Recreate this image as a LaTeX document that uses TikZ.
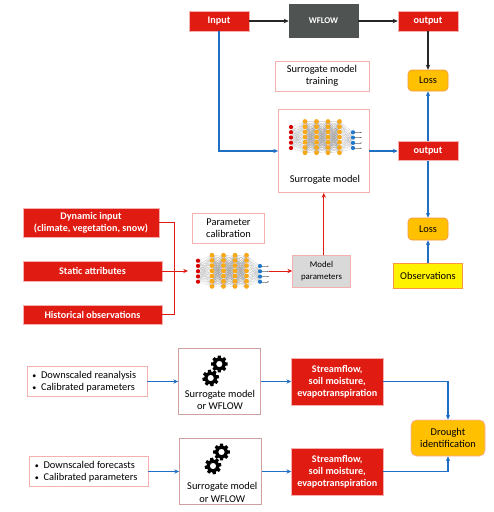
\documentclass[tikz,border=0pt]{standalone}
\usepackage{fontspec}
\setmainfont{Carlito}
\usetikzlibrary{arrows.meta}
\definecolor{boxred}{HTML}{E01B12}
\definecolor{boxpink}{HTML}{F6AFAF}
\definecolor{gearedge}{HTML}{CFA0A0}
\definecolor{lossorange}{HTML}{FFC000}
\definecolor{lossedge}{HTML}{F79646}
\definecolor{wflowgray}{HTML}{4F5452}
\definecolor{linkblue}{HTML}{1F6FC4}
\definecolor{netorange}{HTML}{F9A81A}
\definecolor{netblue}{HTML}{1F78C8}
\newcommand{\listdot}{\makebox[6.6pt][l]{\fontsize{6}{6}\selectfont\textbullet}}
\tikzset{
  plaintext/.style={font=\fontsize{7.8}{9.2}\selectfont,inner sep=0pt},
  redbox/.style={draw=boxpink,line width=0.4pt,fill=boxred,text=white,font=\bfseries\fontsize{7.6}{8.9}\selectfont,align=center,inner sep=0pt},
  notebox/.style={draw=boxpink,line width=0.6pt,fill=white,font=\fontsize{7.8}{9.2}\selectfont,align=center,inner sep=0pt},
  gearbox/.style={draw=gearedge,line width=0.6pt,fill=white,inner sep=0pt},
  lossbox/.style={draw=lossedge,line width=0.5pt,fill=lossorange,rounded corners=3pt,font=\fontsize{7.8}{9.2}\selectfont,align=center,inner sep=0pt},
  bluelink/.style={draw=linkblue,line width=0.8pt,-{Stealth[length=3.6pt,width=3.2pt]}},
  redlink/.style={draw=boxred,line width=0.75pt,-{Stealth[length=3.6pt,width=3.2pt]}},
  blacklink/.style={draw=black!85,line width=0.85pt,-{Stealth[length=3.8pt,width=3.4pt]}},
  neuralnet/.pic={
    \foreach \xa/\xb in {14/25.5,25.5/37,37/48.5}
      \foreach \ya in {-5.5,-0.3,4.9,10.1,15.3,20.5,25.7}
        \foreach \yb in {-5.6,-0.4,4.8,10,15.2,20.4,25.6}
          \draw[black!38,line width=0.13pt] (\xa,\ya)--(\xb,\yb);
    \foreach \ya in {0,5.2,10.5,15.7,21}
      \foreach \yb in {-5.5,-0.3,4.9,10.1,15.3,20.5,25.7}
        \draw[black!25,line width=0.12pt] (0,\ya)--(14,\yb);
    \foreach \ya in {-5.5,-0.3,4.9,10.1,15.3,20.5,25.7}
      \foreach \yb in {5.3,10.6,15.9,21}
        \draw[black!25,line width=0.12pt] (48.5,\ya)--(62,\yb);
    \foreach \yb in {5.3,10.6,15.9,21}{
      \draw[black!40,line width=0.2pt] (62,\yb)--(70,\yb);
      \fill[netblue] (62,\yb) circle (2.1);
      \fill[black] (70,\yb) circle (0.5);
    }
    \foreach \ya in {0,5.2,10.5,15.7,21}
      \fill[red!85!black] (0,\ya) circle (2.1);
    \foreach \xa in {14,25.5,37,48.5}
      \foreach \ya in {-5.5,-0.3,4.9,10.1,15.3,20.5,25.7}
        \fill[netorange] (\xa,\ya) circle (2.4);
  },
  cogwheel/.pic={
    \foreach \a in {0,45,...,315}
      \fill[black,rotate=\a+#1] (-1.9,5)--(1.9,5)--(1.5,8.3)--(-1.5,8.3)--cycle;
    \fill[black,even odd rule] (0,0) circle (6.4) (0,0) circle (3.2);
  }
}
\begin{document}
\begin{tikzpicture}[x=0.75pt,y=-0.75pt]
  \useasboundingbox (0,0) rectangle (494,512);

  \node[redbox,minimum width=45pt,minimum height=15pt] (input) at (219,21) {Input};
  \node[redbox,fill=wflowgray,draw=wflowgray,font=\bfseries\fontsize{6.6}{8}\selectfont,minimum width=51.75pt,minimum height=24.75pt] (wflow) at (323.5,21) {WFLOW};
  \node[redbox,minimum width=45pt,minimum height=15pt] (outputa) at (428,21) {output};
  \node[lossbox,minimum width=30pt,minimum height=15.75pt] (lossa) at (428,80.5) {Loss};
  \node[notebox,minimum width=70.5pt,minimum height=22.5pt] (training) at (322,76) {Surrogate model\\training};
  \node[notebox,minimum width=67.9pt,minimum height=62.25pt] (surrogate) at (323.75,151) {};
  \node[plaintext] (surrogatetext) at (325,180) {Surrogate model};
  \node[redbox,minimum width=45pt,minimum height=14.25pt] (outputb) at (428,151) {output};
  \node[lossbox,minimum width=30pt,minimum height=16.5pt] (lossb) at (428,229) {Loss};
  \node[lossbox,rounded corners=0pt,fill=yellow,minimum width=52pt,minimum height=18.75pt] (observations) at (428,275.5) {Observations};
  \pic (surrogatenet) at (291,127) {neuralnet};

  \node[redbox,minimum width=102pt,minimum height=21.75pt] (dynamic) at (91,222.5) {Dynamic input\\(climate, vegetation, snow)};
  \node[redbox,minimum width=104.25pt,minimum height=15pt] (static) at (92.5,271) {Static attributes};
  \node[redbox,minimum width=104.25pt,minimum height=14.25pt] (historical) at (92.5,314.5) {Historical observations};
  \node[notebox,minimum width=54pt,minimum height=22.5pt] (calibration) at (228.5,228) {Parameter\\calibration};
  \pic (calibrationnet) at (198,260.7) {neuralnet};
  \node[redbox,fill=black!15,text=black,font=\fontsize{6.6}{8.8}\selectfont,minimum width=43.5pt,minimum height=24pt] (parameters) at (321.5,271) {Model\\parameters};
  \coordinate (joint) at (174,271);
  \coordinate (netin) at (188,271);
  \coordinate (netout) at (269,271);

  \node[notebox,minimum width=90pt,minimum height=22.9pt] (reanalysis) at (87,381.5) {};
  \node[plaintext,align=left,anchor=west] (reanalysistext) at (32,381.5) {\listdot Downscaled reanalysis\\\listdot Calibrated parameters};
  \node[gearbox,minimum width=61.5pt,minimum height=49.5pt] (gearsa) at (219.5,381.5) {};
  \node[plaintext,align=center] (gearsatext) at (220,400) {Surrogate model\\or WFLOW};
  \pic at (219.3,364) {cogwheel=0};
  \pic at (210.7,378) {cogwheel=10};
  \node[redbox,minimum width=68.6pt,minimum height=35.25pt] (flowa) at (337.25,381.5) {Streamflow,\\soil moisture,\\evapotranspiration};

  \node[notebox,minimum width=88.9pt,minimum height=22.5pt] (forecasts) at (88.75,471.5) {};
  \node[plaintext,align=left,anchor=west] (forecaststext) at (34.5,471.5) {\listdot Downscaled forecasts\\\listdot Calibrated parameters};
  \node[gearbox,minimum width=61.5pt,minimum height=49.5pt] (gearsb) at (220.5,471.5) {};
  \node[plaintext,align=center] (gearsbtext) at (222.3,492.5) {Surrogate model\\or WFLOW};
  \pic at (221.5,452) {cogwheel=0};
  \pic at (213,466) {cogwheel=10};
  \node[redbox,minimum width=68.6pt,minimum height=35.25pt] (flowb) at (337.25,471.5) {Streamflow,\\soil moisture,\\evapotranspiration};
  \node[lossbox,draw=boxpink,rounded corners=4pt,minimum width=55.5pt,minimum height=27pt] (drought) at (448,438) {Drought\\identification};

  \draw[blacklink] (input)--(wflow);
  \draw[blacklink] (wflow)--(outputa);
  \draw[blacklink] (outputa)--(lossa);
  \draw[bluelink] (input.south)|-(surrogate.west);
  \draw[bluelink] (surrogate.east)--(outputb.west);
  \draw[bluelink] (outputb.north)--(lossa.south);
  \draw[bluelink] (outputb.south)--(lossb.north);
  \draw[bluelink] (observations.north)--(lossb.south);
  \draw[redlink] (parameters.north-|surrogate)--(surrogate.south);
  \draw[redlink] (netout)--(parameters.west);
  \draw[redlink,-] (dynamic.east)-|(joint);
  \draw[redlink,-] (historical.east)-|(joint);
  \draw[redlink] (static.east)--(netin);
  \draw[bluelink] (reanalysis.east)--(gearsa.west);
  \draw[bluelink] (gearsa.east)--(flowa.west);
  \draw[bluelink] (flowa.east)-|(drought.north);
  \draw[bluelink] (forecasts.east)--(gearsb.west);
  \draw[bluelink] (gearsb.east)--(flowb.west);
  \draw[bluelink] (flowb.east)-|(drought.south);
\end{tikzpicture}
\end{document}
